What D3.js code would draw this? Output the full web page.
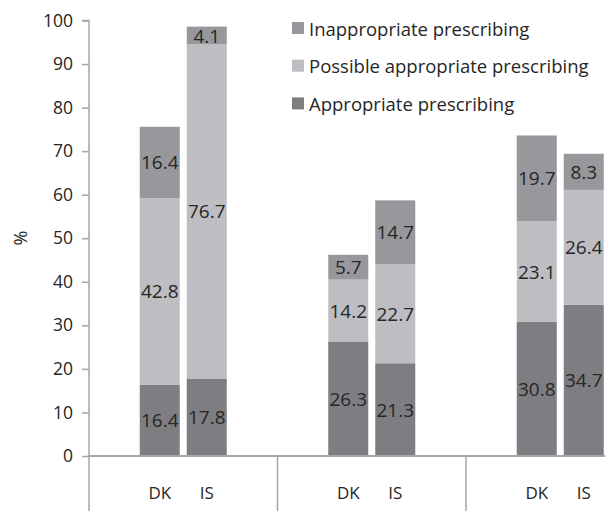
<!DOCTYPE html>
<html>
<head>
<meta charset="utf-8">
<script src="https://cdn.jsdelivr.net/npm/d3@7"></script>
<style>
html,body{margin:0;padding:0;background:#fff;}
svg{display:block;}
text{font-family:"Open Sans",sans-serif;fill:#262626;}
</style>
</head>
<body>
<svg id="chart" width="605" height="511"></svg>
<script>
const groups = ["Group 1", "Group 2", "Group 3"];
const countries = ["DK", "IS"];
const seriesNames = ["Appropriate prescribing", "Possible appropriate prescribing", "Inappropriate prescribing"];
// values per group, per country: [DK, IS]
const appropriate   = [[16.4, 17.8], [26.3, 21.3], [30.8, 34.7]];
const possible      = [[42.8, 76.7], [14.2, 22.7], [23.1, 26.4]];
const inappropriate = [[16.4, 4.1],  [5.7, 14.7],  [19.7, 8.3]];
const yTicks = [0, 10, 20, 30, 40, 50, 60, 70, 80, 90, 100];
const colors = {"Appropriate prescribing": "#7e7e82", "Possible appropriate prescribing": "#bebec2", "Inappropriate prescribing": "#98989c"};
const legendOrder = ["Inappropriate prescribing", "Possible appropriate prescribing", "Appropriate prescribing"];

const rows = [];
groups.forEach((g, gi) => countries.forEach((c, ci) => {
  rows.push({group: g, country: c,
    "Appropriate prescribing": appropriate[gi][ci],
    "Possible appropriate prescribing": possible[gi][ci],
    "Inappropriate prescribing": inappropriate[gi][ci]});
}));

const svg = d3.select("#chart");
const mLeft = 89, mBottom = 456, mTop = 20.5;
const groupW = 188.5;

const y = d3.scaleLinear().domain([0, 100]).range([mBottom, mTop]);
const x0 = d3.scaleBand().domain(groups).range([mLeft, mLeft + groupW * groups.length]);
const pairW = 87;
const x1 = d3.scaleBand().domain(countries).range([0, pairW]).paddingInner(7 / 47);
const off = (x0.bandwidth() - pairW) / 2;
const xPos = d => x0(d.group) + off + x1(d.country);

const axisColor = "#a6a6a6";

const stacked = d3.stack().keys(seriesNames)(rows);

const layers = svg.append("g").selectAll("g").data(stacked).join("g")
  .attr("fill", s => colors[s.key]);
layers.selectAll("rect").data(s => s).join("rect")
  .attr("x", d => xPos(d.data))
  .attr("width", x1.bandwidth())
  .attr("y", d => y(d[1]))
  .attr("height", d => y(d[0]) - y(d[1]));

layers.selectAll("text").data(s => s.map(d => ({d, key: s.key}))).join("text")
  .attr("x", o => xPos(o.d.data) + x1.bandwidth() / 2)
  .attr("y", o => y((o.d[0] + o.d[1]) / 2))
  .attr("text-anchor", "middle")
  .attr("dominant-baseline", "central")
  .attr("fill", "#262626")
  .style("font-size", "19px")
  .text(o => o.d.data[o.key].toFixed(1));

const yAxis = svg.append("g").attr("transform", `translate(${mLeft},0)`)
  .call(d3.axisLeft(y).tickValues(yTicks).tickSize(7).tickPadding(9));
yAxis.select(".domain").attr("stroke", axisColor).attr("stroke-width", 1.5)
  .attr("d", `M-7,${y(100)}H0V${mBottom}`);
yAxis.selectAll(".tick line").attr("stroke", axisColor).attr("stroke-width", 1.5);
yAxis.selectAll(".tick text").style("font-size", "17.5px").style("font-family", "'Open Sans',sans-serif").attr("fill", "#262626");

svg.append("line").attr("x1", mLeft).attr("x2", 605).attr("y1", mBottom).attr("y2", mBottom)
  .attr("stroke", axisColor).attr("stroke-width", 2);
svg.append("g").selectAll("line").data(groups).join("line")
  .attr("x1", g => x0(g)).attr("x2", g => x0(g))
  .attr("y1", mBottom).attr("y2", 511)
  .attr("stroke", axisColor).attr("stroke-width", 1.5);

svg.append("g").selectAll("text").data(rows).join("text")
  .attr("x", d => xPos(d) + x1.bandwidth() / 2)
  .attr("y", 492)
  .attr("text-anchor", "middle")
  .attr("dominant-baseline", "central")
  .style("font-size", "17px")
  .text(d => d.country);

svg.append("text").attr("transform", "translate(20,238) rotate(-90)")
  .attr("text-anchor", "middle").attr("dominant-baseline", "central")
  .style("font-size", "18px").text("%");

const lg = svg.append("g").selectAll("g").data(legendOrder).join("g")
  .attr("transform", (k, i) => `translate(292,${22 + i * 37.7})`);
lg.append("rect").attr("width", 12).attr("height", 12).attr("fill", k => colors[k]);
lg.append("text").attr("x", 17).attr("y", 6).attr("dominant-baseline", "central")
  .style("font-size", "18.5px").text(k => k);
</script>
</body>
</html>
